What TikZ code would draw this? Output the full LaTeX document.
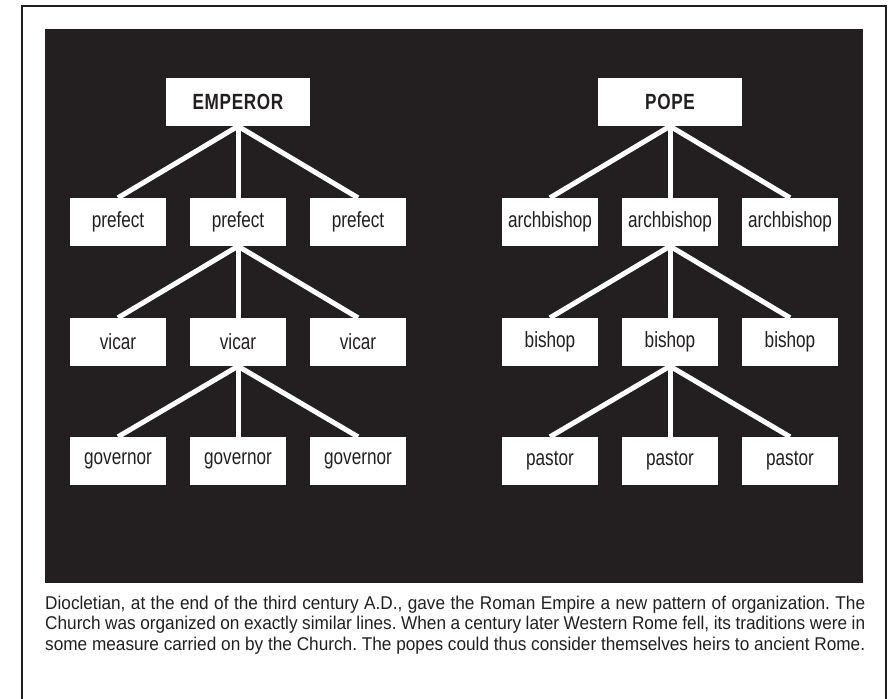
\documentclass[tikz,border=0pt]{standalone}
\usepackage{fontspec}
\setmainfont{Liberation Sans}[FakeStretch=0.78]
\newfontfamily\capfont{Liberation Sans}[FakeStretch=0.93]
\definecolor{ink}{HTML}{231F20}
\begin{document}
\begin{tikzpicture}[x=1pt,y=-1pt,
  box/.style={fill=white, minimum width=96pt, minimum height=48pt, inner sep=0pt, text=ink,
    font=\fontsize{22}{24}\selectfont},
  topbox/.style={box, minimum width=144pt,
    font=\fontsize{22}{24}\selectfont\bfseries\addfontfeatures{LetterSpace=3}},
  link/.style={draw=white, line width=5pt}]
\useasboundingbox (0,0) rectangle (890,698);
\draw[ink, line width=2pt] (22,702) -- (22,6) -- (886,6) -- (886,702);
\fill[ink] (45,29) rectangle (863,583);
% left tree
\node[topbox] (emp) at (238,102) {EMPEROR};
\node[box] (pr1) at (118,222) {prefect};
\node[box] (pr2) at (238,222) {prefect};
\node[box] (pr3) at (358,222) {prefect};
\node[box] (vi1) at (118,342) {vicar};
\node[box] (vi2) at (238,342) {vicar};
\node[box] (vi3) at (358,342) {vicar};
\node[box] (go1) at (118,461) {governor};
\node[box] (go2) at (238,461) {governor};
\node[box] (go3) at (358,461) {governor};
% right tree
\node[topbox] (pope) at (670,102) {POPE};
\node[box] (ar1) at (550,222) {archbishop};
\node[box] (ar2) at (670,222) {archbishop};
\node[box] (ar3) at (790,222) {archbishop};
\node[box] (bi1) at (550,342) {bishop};
\node[box] (bi2) at (670,342) {bishop};
\node[box] (bi3) at (790,342) {bishop};
\node[box] (pa1) at (550,461) {pastor};
\node[box] (pa2) at (670,461) {pastor};
\node[box] (pa3) at (790,461) {pastor};
% connectors
\foreach \p/\a/\b/\c in {emp/pr1/pr2/pr3, pr2/vi1/vi2/vi3, vi2/go1/go2/go3,
                         pope/ar1/ar2/ar3, ar2/bi1/bi2/bi3, bi2/pa1/pa2/pa3}{
  \draw[link] (\p.south) -- (\a.north);
  \draw[link] (\p.south) -- (\b.north);
  \draw[link] (\p.south) -- (\c.north);
}
% caption
\node[anchor=base west, inner sep=0pt, text=ink] (cap) at (45,609)
  {\parbox[t]{820pt}{\capfont\fontsize{18.5}{20.5}\selectfont\frenchspacing\parfillskip=0pt\relax
   Diocletian, at the end of the third century A.D., gave the Roman Empire a new pattern of organization. The\linebreak
   Church was organized on exactly similar lines. When a century later Western Rome fell, its traditions were in\linebreak
   some measure carried on by the Church. The popes could thus consider themselves heirs to ancient Rome.}};
\end{tikzpicture}
\end{document}
